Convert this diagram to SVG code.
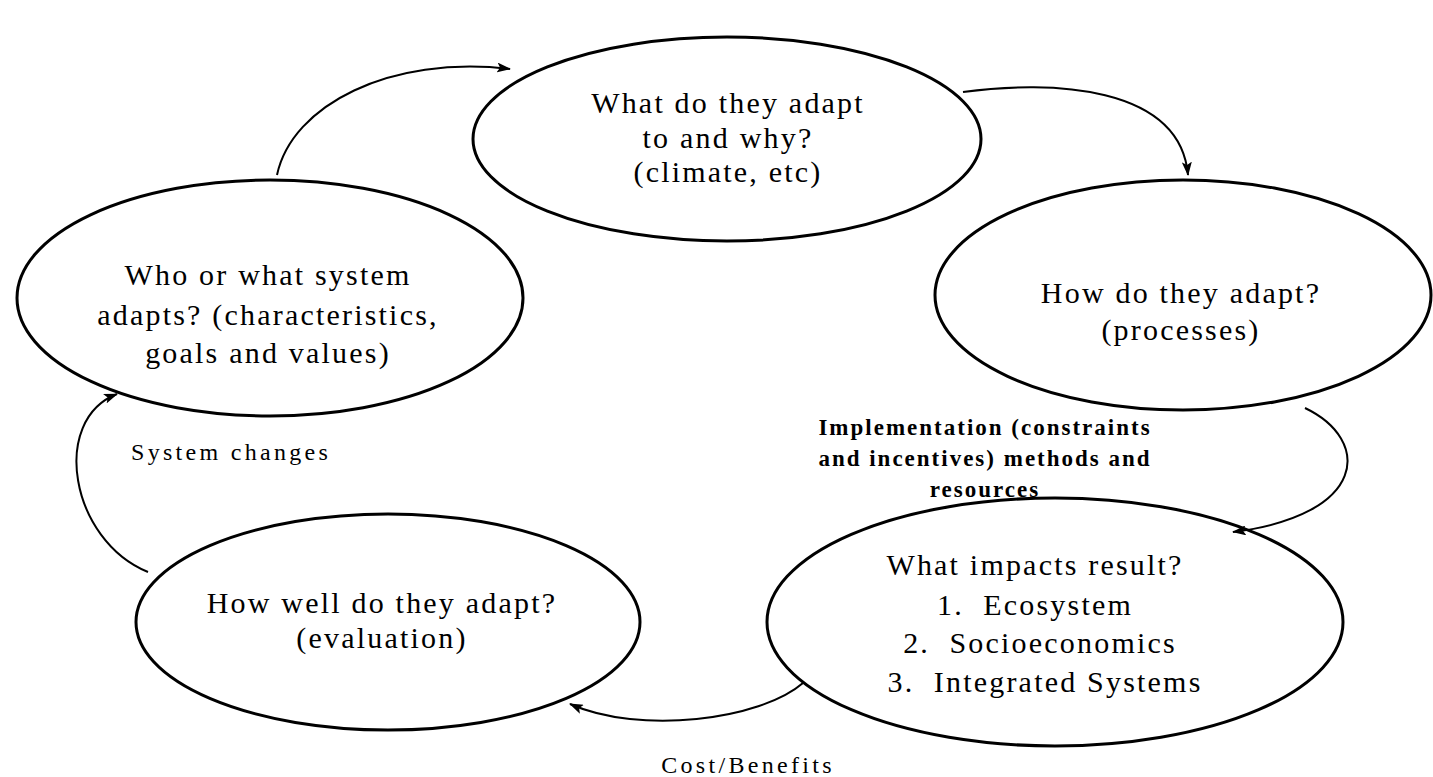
<svg xmlns="http://www.w3.org/2000/svg" width="1433" height="777" viewBox="0 0 1433 777">
<style>
.node{fill:none;stroke:#000;stroke-width:3}
.t{font-family:"Liberation Serif","Times New Roman",serif;font-size:30px;letter-spacing:2.2px;fill:#000;text-anchor:middle}
.lab{font-family:"Liberation Serif","Times New Roman",serif;font-size:24px;letter-spacing:3.3px;fill:#000}
.imp{font-family:"Liberation Serif","Times New Roman",serif;font-size:23px;font-weight:bold;letter-spacing:2px;fill:#000;text-anchor:middle}
.edge{fill:none;stroke:#000;stroke-width:2}
</style>
<defs>
<marker id="ah" viewBox="0 0 14 10" refX="13" refY="5" markerWidth="14" markerHeight="10" markerUnits="userSpaceOnUse" orient="auto">
<path d="M0,0 L14,5 L0,10 L3,5 Z" fill="#000"/>
</marker>
</defs>
<rect width="1433" height="777" fill="#fff"/>
<g id="connectors">
<path class="edge" d="M277,175 C292,105 390,55 510,69" marker-end="url(#ah)"/>
<path class="edge" d="M963,92 C1050,80 1180,85 1188,175" marker-end="url(#ah)"/>
<path class="edge" d="M1305,408 C1372,440 1368,515 1233,532" marker-end="url(#ah)"/>
<path class="edge" d="M803,683 C760,720 640,735 570,704" marker-end="url(#ah)"/>
<path class="edge" d="M148,572 C70,540 50,420 117,394" marker-end="url(#ah)"/>
</g>
<g id="label-implementation">
<text class="imp" x="985" y="435">Implementation (constraints</text>
<text class="imp" x="985" y="466">and incentives) methods and</text>
<text class="imp" x="985" y="497">resources</text>
</g>
<g id="label-system-changes"><text class="lab" x="131" y="460">System changes</text></g>
<g id="label-cost-benefits"><text class="lab" x="748" y="773" text-anchor="middle">Cost/Benefits</text></g>
<g id="node-what">
<ellipse class="node" cx="727" cy="139" rx="254" ry="102"/>
<text class="t" x="728" y="113">What do they adapt</text>
<text class="t" x="728" y="148">to and why?</text>
<text class="t" x="728" y="182">(climate, etc)</text>
</g>
<g id="node-how">
<ellipse class="node" cx="1183" cy="295" rx="248" ry="115"/>
<text class="t" x="1181" y="303">How do they adapt?</text>
<text class="t" x="1181" y="340">(processes)</text>
</g>
<g id="node-who">
<ellipse class="node" cx="270" cy="298" rx="253" ry="118"/>
<text class="t" x="268" y="285">Who or what system</text>
<text class="t" x="268" y="325">adapts? (characteristics,</text>
<text class="t" x="268" y="363">goals and values)</text>
</g>
<g id="node-howwell">
<ellipse class="node" cx="388" cy="622" rx="252" ry="108"/>
<text class="t" x="382" y="613">How well do they adapt?</text>
<text class="t" x="382" y="648">(evaluation)</text>
</g>
<g id="node-impacts">
<ellipse class="node" cx="1055" cy="622" rx="288" ry="124"/>
<text class="t" x="1035" y="575">What impacts result?</text>
<text class="t" x="1035" y="615" xml:space="preserve">1.  Ecosystem</text>
<text class="t" x="1040" y="653" xml:space="preserve">2.  Socioeconomics</text>
<text class="t" x="1045" y="692" xml:space="preserve">3.  Integrated Systems</text>
</g>
</svg>
